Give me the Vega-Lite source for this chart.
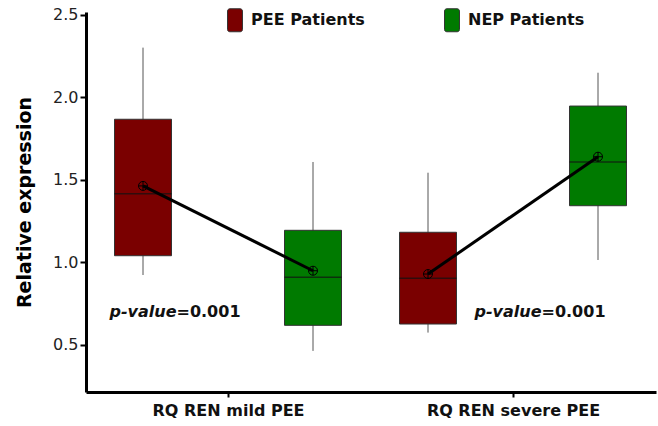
{
  "$schema": "https://vega.github.io/schema/vega-lite/v6.json",
  "width": 570,
  "height": 380,
  "autosize": {"type": "none"},
  "padding": {"left": 86, "top": 12, "right": 2, "bottom": 34},
  "background": "white",
  "config": {
    "view": {"stroke": null},
    "font": "DejaVu Sans"
  },
  "datasets": {
    "boxes": [
      {"group": "RQ REN mild PEE", "patient": "PEE Patients", "lower": 0.924, "q1": 1.041, "median": 1.417, "q3": 1.868, "upper": 2.302, "mean": 1.464},
      {"group": "RQ REN mild PEE", "patient": "NEP Patients", "lower": 0.464, "q1": 0.619, "median": 0.910, "q3": 1.195, "upper": 1.609, "mean": 0.950},
      {"group": "RQ REN severe PEE", "patient": "PEE Patients", "lower": 0.575, "q1": 0.627, "median": 0.904, "q3": 1.183, "upper": 1.544, "mean": 0.930},
      {"group": "RQ REN severe PEE", "patient": "NEP Patients", "lower": 1.015, "q1": 1.344, "median": 1.609, "q3": 1.948, "upper": 2.150, "mean": 1.641}
    ],
    "pmild": [{"group": "RQ REN mild PEE", "y": 0.672, "a": "p-value", "b": "=0.001"}],
    "psevere": [{"group": "RQ REN severe PEE", "y": 0.672, "a": "p-value", "b": "=0.001"}]
  },
  "encoding": {
    "x": {
      "field": "group",
      "type": "nominal",
      "sort": ["RQ REN mild PEE", "RQ REN severe PEE"],
      "scale": {"paddingInner": 0, "paddingOuter": 0},
      "axis": {
        "title": null,
        "labelAngle": 0,
        "labelFont": "DejaVu Sans",
        "labelFontSize": 16,
        "labelFontWeight": "bold",
        "labelColor": "#111111",
        "labelPadding": 5,
        "labelDx": -4,
        "domainColor": "#000000",
        "domainWidth": 3,
        "tickColor": "#000000",
        "tickWidth": 2,
        "tickSize": 5,
        "grid": false
      }
    }
  },
  "layer": [
    {
      "data": {"name": "boxes"},
      "mark": {"type": "rule", "color": "#555555", "strokeWidth": 1},
      "encoding": {
        "xOffset": {"field": "patient", "type": "nominal", "sort": ["PEE Patients", "NEP Patients"], "scale": {"range": [-28, 312]}},
        "y": {
          "field": "lower",
          "type": "quantitative",
          "scale": {"domain": [0.215, 2.518], "nice": false, "zero": false},
          "axis": {
            "values": [0.5, 1.0, 1.5, 2.0, 2.5],
            "format": ".1f",
            "title": "Relative expression",
            "titleFont": "DejaVu Sans",
            "titleFontSize": 19,
            "titleFontWeight": "bold",
            "titleColor": "#000000",
            "titleAngle": -90,
            "titleX": -62,
            "titleY": 190,
            "titleAlign": "center",
            "titleBaseline": "middle",
            "labelFont": "DejaVu Sans",
            "labelFontSize": 16,
            "labelColor": "#222222",
            "labelPadding": 2,
            "domainColor": "#000000",
            "domainWidth": 3,
            "tickColor": "#000000",
            "tickWidth": 2,
            "tickSize": 6,
            "grid": false
          }
        },
        "y2": {"field": "upper"}
      }
    },
    {
      "data": {"name": "boxes"},
      "mark": {"type": "bar", "width": 57, "stroke": "#333333", "strokeWidth": 1, "opacity": 1},
      "encoding": {
        "xOffset": {"field": "patient", "type": "nominal", "sort": ["PEE Patients", "NEP Patients"]},
        "y": {"field": "q1", "type": "quantitative"},
        "y2": {"field": "q3"},
        "color": {
          "field": "patient",
          "type": "nominal",
          "scale": {"domain": ["PEE Patients", "NEP Patients"], "range": ["#7a0000", "#007a00"]},
          "legend": {
            "title": null,
            "orient": "none",
            "direction": "horizontal",
            "legendX": 137,
            "legendY": -4,
            "symbolType": "M-0.45,-1H0.45A0.2,0.2 0 0 1 0.65,-0.8V0.8A0.2,0.2 0 0 1 0.45,1H-0.45A0.2,0.2 0 0 1 -0.65,0.8V-0.8A0.2,0.2 0 0 1 -0.45,-1Z",
            "symbolSize": 529,
            "symbolStrokeColor": "#333333",
            "symbolStrokeWidth": 1,
            "symbolOpacity": 1,
            "labelFont": "DejaVu Sans",
            "labelFontSize": 16,
            "labelFontWeight": "bold",
            "labelColor": "#111111",
            "labelOffset": 4,
            "columnPadding": 75
          }
        }
      }
    },
    {
      "data": {"name": "boxes"},
      "mark": {"type": "tick", "size": 57, "thickness": 1.5, "color": "#111111"},
      "encoding": {
        "xOffset": {"field": "patient", "type": "nominal", "sort": ["PEE Patients", "NEP Patients"]},
        "y": {"field": "median", "type": "quantitative"}
      }
    },
    {
      "data": {"name": "boxes"},
      "mark": {"type": "line", "color": "#000000", "strokeWidth": 3},
      "encoding": {
        "xOffset": {"field": "patient", "type": "nominal", "sort": ["PEE Patients", "NEP Patients"]},
        "y": {"field": "mean", "type": "quantitative"},
        "detail": {"field": "group"}
      }
    },
    {
      "data": {"name": "boxes"},
      "mark": {"type": "point", "shape": "M-1,0A1,1 0 1 1 1,0A1,1 0 1 1 -1,0ZM-1,0L1,0M0,-1L0,1", "filled": false, "stroke": "#000000", "strokeWidth": 1, "size": 81, "opacity": 1},
      "encoding": {
        "xOffset": {"field": "patient", "type": "nominal", "sort": ["PEE Patients", "NEP Patients"]},
        "y": {"field": "mean", "type": "quantitative"}
      }
    },
    {
      "data": {"name": "pmild"},
      "mark": {"type": "text", "align": "right", "baseline": "alphabetic", "dx": -52, "font": "DejaVu Sans", "fontSize": 16, "fontWeight": "bold", "fontStyle": "italic", "color": "#111111"},
      "encoding": {"y": {"field": "y", "type": "quantitative"}, "text": {"field": "a"}}
    },
    {
      "data": {"name": "pmild"},
      "mark": {"type": "text", "align": "left", "baseline": "alphabetic", "dx": -52, "font": "DejaVu Sans", "fontSize": 16, "fontWeight": "bold", "color": "#111111"},
      "encoding": {"y": {"field": "y", "type": "quantitative"}, "text": {"field": "b"}}
    },
    {
      "data": {"name": "psevere"},
      "mark": {"type": "text", "align": "right", "baseline": "alphabetic", "dx": 28, "font": "DejaVu Sans", "fontSize": 16, "fontWeight": "bold", "fontStyle": "italic", "color": "#111111"},
      "encoding": {"y": {"field": "y", "type": "quantitative"}, "text": {"field": "a"}}
    },
    {
      "data": {"name": "psevere"},
      "mark": {"type": "text", "align": "left", "baseline": "alphabetic", "dx": 28, "font": "DejaVu Sans", "fontSize": 16, "fontWeight": "bold", "color": "#111111"},
      "encoding": {"y": {"field": "y", "type": "quantitative"}, "text": {"field": "b"}}
    }
  ]
}
